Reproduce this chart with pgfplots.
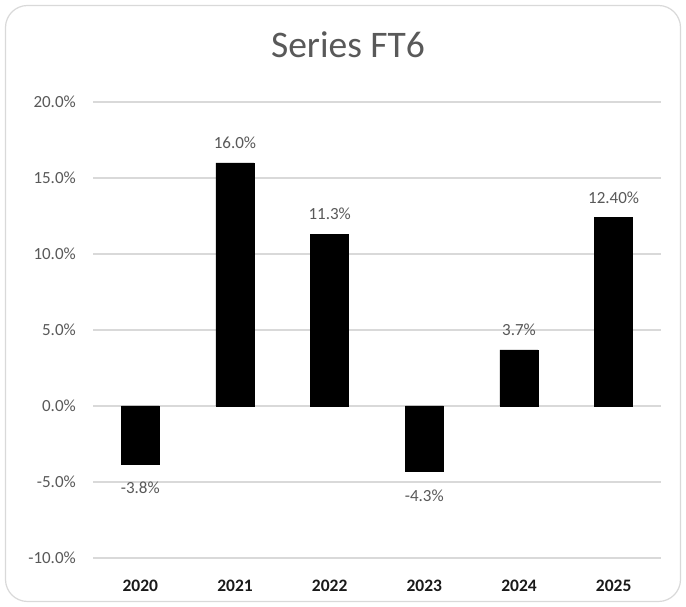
\documentclass[border=0pt]{standalone}
\usepackage{pgfplots}
\pgfplotsset{compat=1.18}
\usepackage{fontspec}
\setmainfont{Carlito}
\definecolor{gridc}{HTML}{D9D9D9}
\definecolor{txt}{HTML}{595959}
\definecolor{lab}{HTML}{1A1A1A}
\begin{document}
\begin{tikzpicture}[x=1pt,y=1pt]
\fill[white] (0,0) rectangle (686,607);
\draw[gridc, line width=1.2pt, rounded corners=22pt] (5.5,5.5) rectangle (680.5,601.5);
\node[anchor=base, text=txt, font=\fontsize{37.5}{42}\selectfont] at (348,549) {Series FT6};
\begin{axis}[
  at={(93pt,49pt)}, anchor=south west,
  scale only axis, width=568pt, height=456pt,
  xmin=-0.5, xmax=5.5, ymin=-10, ymax=20,
  axis line style={draw=none},
  tick style={draw=none},
  ymajorgrids, grid style={gridc, line width=1.3pt},
  ytick={-10,-5,0,5,10,15,20},
  yticklabels={-10.0\%,-5.0\%,0.0\%,5.0\%,10.0\%,15.0\%,20.0\%},
  yticklabel style={inner sep=0pt, anchor=east, xshift=-17pt, text=txt, font=\fontsize{17}{20}\selectfont},
  xtick={0,1,2,3,4,5},
  xticklabels={2020,2021,2022,2023,2024,2025},
  xticklabel style={inner sep=0pt, anchor=center, yshift=-23.5pt, text=lab, font=\bfseries\fontsize{17.5}{20}\selectfont},
  ybar, bar width=38pt, bar shift=0pt,
]
\addplot[fill=black, draw=black, point meta=explicit symbolic,
  nodes near coords={\pgfplotspointmeta},
  every node near coord/.style={inner sep=0pt, anchor=center, yshift=20pt, text=txt, font=\fontsize{17}{20}\selectfont}]
  table[meta=lab] {
x y lab
1 16.0 16.0\%
2 11.3 11.3\%
4 3.7 3.7\%
5 12.4 12.40\%
};
\addplot[fill=black, draw=black, point meta=explicit symbolic,
  nodes near coords={\pgfplotspointmeta},
  every node near coord/.style={inner sep=0pt, anchor=center, yshift=-24.5pt, text=txt, font=\fontsize{17}{20}\selectfont}]
  table[meta=lab] {
x y lab
0 -3.8 -3.8\%
3 -4.3 -4.3\%
};
\end{axis}
\end{tikzpicture}
\end{document}
